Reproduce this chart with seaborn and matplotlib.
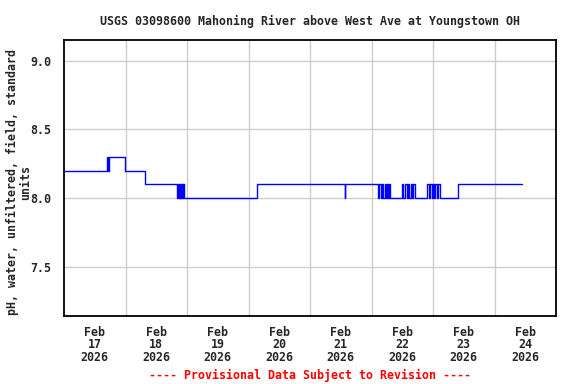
import matplotlib
matplotlib.use("Agg")
import matplotlib.pyplot as plt
import numpy as np
import pandas as pd
import seaborn as sns

# ---- data (hours after 2026-02-17 00:00, pH value) ----
start = "2026-02-17 00:00"
hours = [0.0, 16.8, 17.2, 17.6, 23.75, 31.5,
         44.2, 44.5, 44.9, 45.1, 45.25, 45.5, 45.75, 46.0, 46.25, 46.5, 46.75,
         75.25, 109.5, 109.75,
         122.5, 122.9, 123.6, 124.1, 124.6, 125.3, 125.6, 126.2, 126.5, 126.8, 127.2,
         132.0, 132.4, 133.1, 133.7, 134.1, 134.7, 135.3, 135.8, 136.3, 137.0,
         141.8, 142.3, 142.8, 143.5, 143.9, 144.4, 144.9, 145.4, 146.1, 146.7,
         153.7, 178.7]
ph = [8.2, 8.3, 8.2, 8.3, 8.2, 8.1,
      8.0, 8.1, 8.0, 8.1, 8.0, 8.1, 8.0, 8.1, 8.0, 8.1, 8.0,
      8.1, 8.0, 8.1,
      8.0, 8.1, 8.0, 8.1, 8.0, 8.1, 8.0, 8.1, 8.0, 8.1, 8.0,
      8.1, 8.0, 8.1, 8.0, 8.1, 8.0, 8.1, 8.0, 8.1, 8.0,
      8.1, 8.0, 8.1, 8.0, 8.1, 8.0, 8.1, 8.0, 8.1, 8.0,
      8.1, 8.1]
day_labels = ["Feb\n17\n2026", "Feb\n18\n2026", "Feb\n19\n2026", "Feb\n20\n2026",
              "Feb\n21\n2026", "Feb\n22\n2026", "Feb\n23\n2026", "Feb\n24\n2026"]
y_ticks = [7.5, 8.0, 8.5, 9.0]
title = "USGS 03098600 Mahoning River above West Ave at Youngstown OH"
ylabel = "pH, water, unfiltered, field, standard\nunits"
footer = "---- Provisional Data Subject to Revision ----"

df = pd.DataFrame({"time": pd.Timestamp(start) + pd.to_timedelta(hours, unit="h"),
                   "ph": ph})

sns.set_theme(style="white")
plt.rcParams["font.family"] = ["DejaVu Sans Mono"]
plt.rcParams["font.weight"] = "bold"
fs = 8.4

fig = plt.figure(figsize=(5.76, 3.84), dpi=100)
ax = fig.add_axes([64/576, 1-316/384, (556-64)/576, (316-40)/384])

sns.lineplot(data=df, x="time", y="ph", ax=ax, color="#0000ff", linewidth=1.0,
             drawstyle="steps-post", estimator=None, sort=False)

t0 = pd.Timestamp(start)
ax.set_xlim(t0, t0 + pd.Timedelta(days=8))
ax.set_ylim(7.139, 9.153)

major = [t0 + pd.Timedelta(hours=12 + 24*i) for i in range(8)]
minor = [t0 + pd.Timedelta(days=i) for i in range(1, 8)]
ax.set_xticks(major)
ax.set_xticklabels(day_labels, fontsize=fs, fontweight="bold", linespacing=0.95)
ax.set_xticks(minor, minor=True)
ax.set_yticks(y_ticks)
ax.set_yticklabels([f"{v:.1f}" for v in y_ticks], fontsize=fs, fontweight="bold")

ax.grid(False)
ax.grid(True, which="minor", axis="x", color="#cccccc", linewidth=1.0)
ax.grid(True, which="major", axis="y", color="#cccccc", linewidth=1.0)
ax.tick_params(which="both", length=0)
ax.tick_params(axis="x", pad=7)
ax.tick_params(axis="y", pad=9)
for s in ax.spines.values():
    s.set_color("black")
    s.set_linewidth(1.3)
ax.set_axisbelow(True)

ax.set_xlabel("")
ax.set_ylabel(ylabel, fontsize=fs, fontweight="bold", linespacing=0.95)
ax.yaxis.label.set_verticalalignment("center")
ax.yaxis.set_label_coords((19 - 64) / 492, 0.5 - 4 / 276)
ax.set_title(title, fontsize=fs, fontweight="bold", pad=11)

fig.text(310/576, 1-375/384, footer, color="red", ha="center", va="center",
         fontsize=fs, fontweight="bold")

fig.savefig("out.png", dpi=100)
